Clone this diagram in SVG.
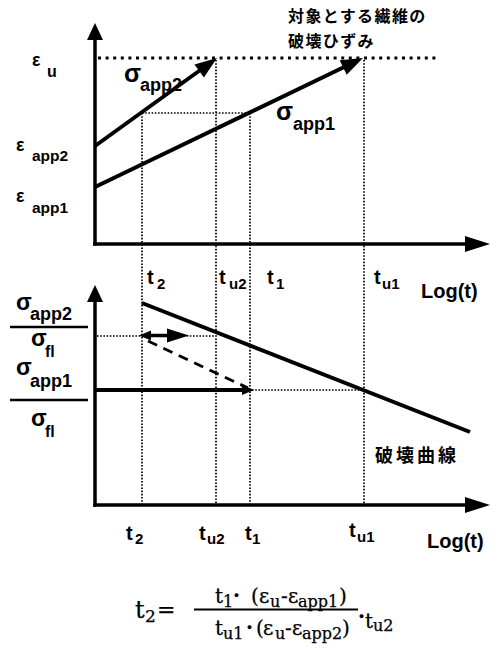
<svg xmlns="http://www.w3.org/2000/svg" width="498" height="648" viewBox="0 0 498 648">
<style>
.ax{stroke:#000;stroke-width:3.5;fill:none}
.th{stroke:#000;stroke-width:4;fill:none}
.dotH{stroke:#000;stroke-width:3;stroke-dasharray:3 4.6;fill:none}
.dot{stroke:#000;stroke-width:1.7;stroke-dasharray:1.6 1.6;fill:none}
.dash{stroke:#000;stroke-width:2.8;stroke-dasharray:10 7;fill:none}
.bar{stroke:#000;stroke-width:2.5}
.ah{fill:#000}
.l{font-family:"Liberation Sans",Arial,sans-serif;font-weight:bold;fill:#000}
.j{font-family:"Noto Sans CJK JP",sans-serif;font-weight:bold;fill:#000}
.f{font-family:"DejaVu Serif","Liberation Serif",serif;fill:#000;stroke:#000;stroke-width:0.25}
</style>
<rect width="498" height="648" fill="#fff"/>

<g id="guides">
<line class="dotH" x1="98" y1="58" x2="440" y2="58"/>
<line class="dot" x1="142" y1="113" x2="250" y2="113"/>
<line class="dot" x1="142" y1="113" x2="142" y2="504"/>
<line class="dot" x1="216" y1="60" x2="216" y2="504"/>
<line class="dot" x1="250" y1="113" x2="250" y2="504"/>
<line class="dot" x1="364" y1="60" x2="364" y2="504"/>
<line class="dot" x1="97" y1="336" x2="215" y2="336"/>
<line class="dot" x1="252" y1="390" x2="364" y2="390"/>
</g>

<g id="top-chart">
<line class="ax" x1="95" y1="38" x2="95" y2="245.75"/>
<polygon class="ah" points="95,23 87,40 103,40"/>
<line class="ax" x1="93.25" y1="244" x2="467" y2="244"/>
<polygon class="ah" points="490,244 465,236 465,252"/>
</g>

<g id="connectors">
<line class="th" x1="95" y1="146" x2="202.4" y2="68.5"/>
<polygon class="ah" points="217,58 203.9,77.4 194.5,64.4"/>
<line class="th" x1="95" y1="187" x2="346.8" y2="65.8"/>
<polygon class="ah" points="363,58 346.7,74.7 339.7,60.3"/>
<line class="th" x1="142" y1="303" x2="470" y2="432"/>
<line class="th" x1="146" y1="335.5" x2="172" y2="335.5" style="stroke-width:3.5"/>
<polygon class="ah" points="189,335.5 167,328.5 167,342.5"/>
<polygon class="ah" points="139,335.5 151,330.5 151,340.5"/>
<line class="dash" x1="148" y1="341" x2="248" y2="388"/>
<line class="th" x1="95" y1="390" x2="244" y2="390"/>
<polygon class="ah" points="254,390 242,385 242,395"/>
</g>

<g id="bottom-chart">
<line class="ax" x1="95" y1="300" x2="95" y2="506.75"/>
<polygon class="ah" points="95,285 87,302 103,302"/>
<line class="ax" x1="93.25" y1="505" x2="467" y2="505"/>
<polygon class="ah" points="490,505 465,497 465,513"/>
<line class="bar" x1="10" y1="327" x2="88" y2="327"/>
<line class="bar" x1="10" y1="400" x2="88" y2="400"/>
</g>

<g id="top-labels">
<text class="l" x="32" y="66" font-size="18">ε</text>
<text class="l" x="47" y="77" font-size="16">u</text>
<text class="l" x="16" y="151" font-size="18">ε</text>
<text class="l" x="32" y="161" font-size="15.5">app2</text>
<text class="l" x="16" y="202" font-size="18">ε</text>
<text class="l" x="32" y="213" font-size="15.5">app1</text>
<text class="l" x="124" y="82" font-size="25">σ</text>
<text class="l" x="140" y="91" font-size="18">app2</text>
<text class="l" x="276" y="120" font-size="25">σ</text>
<text class="l" x="293" y="130" font-size="18">app1</text>
<text class="j" x="288" y="22" font-size="16" letter-spacing="1.4">対象とする繊維の</text>
<text class="j" x="288" y="47" font-size="16" letter-spacing="1.4">破壊ひずみ</text>
<text class="l" x="147" y="284" font-size="20">t</text>
<text class="l" x="157" y="289" font-size="15">2</text>
<text class="l" x="219" y="284" font-size="20">t</text>
<text class="l" x="229" y="289" font-size="15">u2</text>
<text class="l" x="267" y="284" font-size="20">t</text>
<text class="l" x="276" y="289" font-size="15">1</text>
<text class="l" x="374" y="284" font-size="20">t</text>
<text class="l" x="382" y="289" font-size="15">u1</text>
<text class="l" x="421" y="298" font-size="20">Log(t)</text>
</g>

<g id="bottom-labels">
<text class="l" x="16" y="310" font-size="23">σ</text>
<text class="l" x="30" y="320" font-size="18">app2</text>
<text class="l" x="31" y="346" font-size="23">σ</text>
<text class="l" x="45" y="357" font-size="16">fl</text>
<text class="l" x="16" y="375" font-size="23">σ</text>
<text class="l" x="30" y="387" font-size="18">app1</text>
<text class="l" x="31" y="426" font-size="23">σ</text>
<text class="l" x="45" y="437" font-size="16">fl</text>
<text class="j" x="375" y="462" font-size="18" letter-spacing="3">破壊曲線</text>
<text class="l" x="126" y="540" font-size="20">t</text>
<text class="l" x="135" y="544" font-size="15">2</text>
<text class="l" x="199" y="540" font-size="20">t</text>
<text class="l" x="207" y="544" font-size="15">u2</text>
<text class="l" x="245" y="540" font-size="20">t</text>
<text class="l" x="252" y="544" font-size="15">1</text>
<text class="l" x="349" y="537" font-size="20">t</text>
<text class="l" x="357" y="542" font-size="15">u1</text>
<text class="l" x="427" y="548" font-size="20">Log(t)</text>
</g>

<g id="formula">
<text class="f" y="618" font-size="24"><tspan x="135">t</tspan><tspan x="145" y="622" font-size="17">2</tspan><tspan x="157" y="617" font-size="22">=</tspan></text>
<text class="f" y="603" font-size="20"><tspan x="215">t</tspan><tspan x="223" y="607" font-size="16">1</tspan><tspan x="233" y="602" font-weight="bold">·</tspan><tspan x="251" y="603">(</tspan><tspan x="259">ε</tspan><tspan x="270" y="607" font-size="16">u</tspan><tspan x="281" y="603">-</tspan><tspan x="288">ε</tspan><tspan x="298" y="607" font-size="16">app1</tspan><tspan x="339" y="603">)</tspan></text>
<line x1="194" y1="609.5" x2="358" y2="609.5" stroke="#000" stroke-width="1.8"/>
<text class="f" y="635" font-size="20"><tspan x="215">t</tspan><tspan x="223" y="639" font-size="16">u1</tspan><tspan x="246" y="634" font-weight="bold">·</tspan><tspan x="256" y="635">(</tspan><tspan x="263">ε</tspan><tspan x="275" y="639" font-size="16">u</tspan><tspan x="285" y="635">-</tspan><tspan x="292">ε</tspan><tspan x="302" y="639" font-size="16">app2</tspan><tspan x="342" y="635">)</tspan></text>
<text class="f" y="623" font-size="20"><tspan x="358" font-weight="bold">·</tspan><tspan x="365" y="628">t</tspan><tspan x="373" y="631" font-size="16">u2</tspan></text>
</g>
</svg>
